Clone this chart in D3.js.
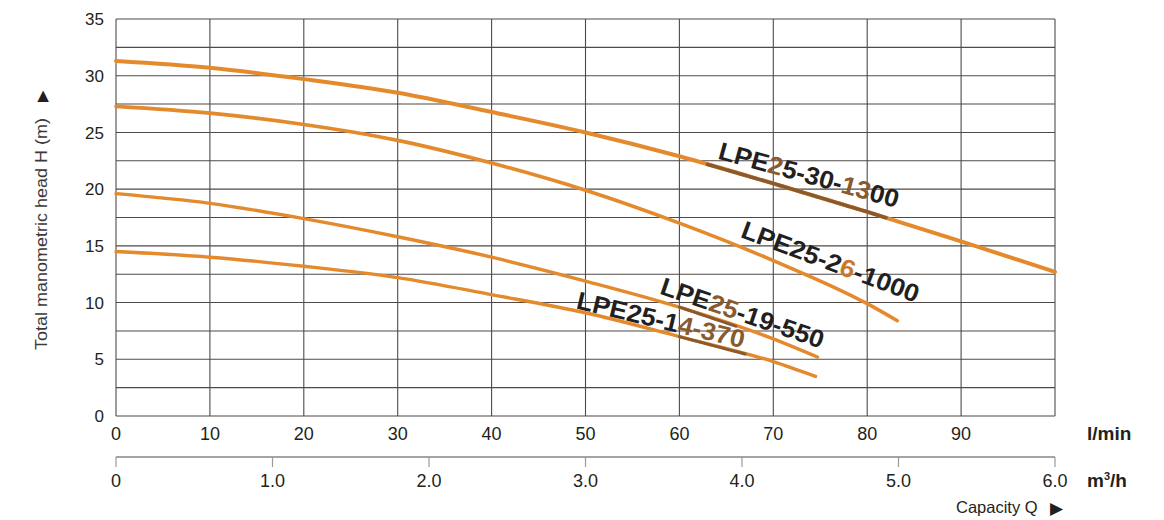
<!DOCTYPE html>
<html><head><meta charset="utf-8">
<script src="https://cdn.jsdelivr.net/npm/d3@7"></script>
<style>
html,body{margin:0;padding:0;background:#fff;}
svg{display:block;font-family:"Liberation Sans",Arial,Helvetica,sans-serif;}
</style></head>
<body>
<svg id="chart" width="1164" height="520"></svg>
<script>
// ---- Data ----
const flowLmin = [0,10,20,30,40,50,60,70,80,90,100];
const xTicksLmin = [0,10,20,30,40,50,60,70,80,90];
const xTicksM3h = [0,1.0,2.0,3.0,4.0,5.0,6.0];
const yTicks = [0,5,10,15,20,25,30,35];
const yGrid = [0,2.5,5,7.5,10,12.5,15,17.5,20,22.5,25,27.5,30,32.5,35];

const seriesNames = ["LPE25-30-1300","LPE25-26-1000","LPE25-19-550","LPE25-14-370"];
const q1300 = [0,10,20,30,40,50,60,70,80,90,100];
const h1300 = [31.3,30.7,29.7,28.5,26.8,25.0,22.9,20.5,18.0,15.4,12.7];
const q1000 = [0,10,20,30,40,50,60,70,80,83.2];
const h1000 = [27.3,26.7,25.7,24.3,22.3,19.9,17.0,13.7,9.9,8.4];
const q550 = [0,10,20,30,40,50,60,70,74.7];
const h550 = [19.6,18.75,17.4,15.8,14.0,11.9,9.6,6.8,5.2];
const q370 = [0,10,20,30,40,50,60,70,74.5];
const h370 = [14.5,14.0,13.2,12.2,10.7,9.1,7.0,4.8,3.5];

// label anchor (l/min, m) and rotation, per series
const labelQ = [64.0,66.4,57.8,48.9];
const labelH = [22.7,15.8,10.8,9.5];
const labelAngle = [15.4,20.6,18.8,13.4];
const labelLen = [186,188,171,172];

// darker overlapping stretches on curves [series index, from, to] (l/min)
const darkSeg = [[0,63,82],[2,60,66],[3,60,67]];

// ---- Layout ----
const svg = d3.select("#chart");
const X0=116, X1=1055, Y0=416, Y1=19;
const x = d3.scaleLinear().domain([0,100]).range([X0,X1]);
const xm = d3.scaleLinear().domain([0,6]).range([X0,X1]);
const y = d3.scaleLinear().domain([0,35]).range([Y0,Y1]);
const gridCol="#4f4a48", txtCol="#231f20";
const orange="#e48a2c", brown="#8a5a2e";

// grid
svg.append("g").selectAll("line").data(yGrid).join("line")
  .attr("x1",X0).attr("x2",X1).attr("y1",d=>y(d)).attr("y2",d=>y(d))
  .attr("stroke",gridCol).attr("stroke-width",1.1);
svg.append("g").selectAll("line").data(flowLmin).join("line")
  .attr("x1",d=>x(d)).attr("x2",d=>x(d)).attr("y1",Y0).attr("y2",Y1)
  .attr("stroke",gridCol).attr("stroke-width",1.1);

// y tick labels
svg.append("g").selectAll("text").data(yTicks).join("text")
  .attr("x",X0-12).attr("y",d=>y(d)).attr("dy","0.36em")
  .attr("text-anchor","end").attr("font-size",17).attr("fill",txtCol)
  .text(d=>d);

// x tick labels (l/min)
svg.append("g").selectAll("text").data(xTicksLmin).join("text")
  .attr("x",d=>x(d)).attr("y",440)
  .attr("text-anchor","middle").attr("font-size",18).attr("fill",txtCol)
  .text(d=>d);
svg.append("text").attr("x",1087).attr("y",440).attr("font-size",19)
  .attr("font-weight","bold").attr("fill",txtCol).text("l/min");

// secondary axis (m3/h)
svg.append("line").attr("x1",X0).attr("x2",X1).attr("y1",457).attr("y2",457)
  .attr("stroke",gridCol).attr("stroke-width",1.1);
svg.append("g").selectAll("line").data(xTicksM3h).join("line")
  .attr("x1",d=>xm(d)).attr("x2",d=>xm(d)).attr("y1",457).attr("y2",467)
  .attr("stroke","#9a9a9a").attr("stroke-width",1.2);
svg.append("g").selectAll("text").data(xTicksM3h).join("text")
  .attr("x",d=>xm(d)).attr("y",487)
  .attr("text-anchor","middle").attr("font-size",18).attr("fill",txtCol)
  .text(d=>d===0?"0":d.toFixed(1));
const mh = svg.append("text").attr("x",1087).attr("y",487).attr("font-size",19)
  .attr("font-weight","bold").attr("fill",txtCol);
mh.append("tspan").text("m");
mh.append("tspan").attr("font-size",11).attr("dy",-7).text("3");
mh.append("tspan").attr("dy",7).text("/h");

svg.append("text").attr("x",956).attr("y",513).attr("font-size",16.5)
  .attr("fill",txtCol).text("Capacity Q");
svg.append("text").attr("x",1050).attr("y",514).attr("font-size",17)
  .attr("fill",txtCol).attr("font-family","DejaVu Sans").text("▶");

// y axis title
const yt = svg.append("g").attr("transform","translate(47,350) rotate(-90)");
yt.append("text").attr("x",0).attr("y",0).attr("font-size",16)
  .attr("fill","#3a3a3a").attr("textLength",232).attr("lengthAdjust","spacingAndGlyphs")
  .text("Total manometric head H  (m)");
yt.append("text").attr("x",248).attr("y",0).attr("font-size",15)
  .attr("fill","#231f20").attr("font-family","DejaVu Sans").text("▶");

// curves
const seriesQ=[q1300,q1000,q550,q370], seriesH=[h1300,h1000,h550,h370];
const widths=[4,3.6,3.4,3.4];
const line = d3.line().x(d=>x(d[0])).y(d=>y(d[1])).curve(d3.curveMonotoneX);
const cg = svg.append("g").attr("fill","none").attr("stroke-linecap","round");
seriesQ.forEach((qs,i)=>{
  const pts = qs.map((q,j)=>[q,seriesH[i][j]]);
  cg.append("path").attr("d",line(pts)).attr("stroke",orange).attr("stroke-width",widths[i]);
});
// darker stretches
darkSeg.forEach(([i,a,b])=>{
  const interp = d3.scaleLinear().domain(seriesQ[i]).range(seriesH[i]);
  const pts = d3.range(a,b+0.001,0.5).map(q=>[q,interp(q)]);
  cg.append("path").attr("d",line(pts)).attr("stroke",brown).attr("stroke-width",widths[i]-0.4);
});

// labels
const parts = [
  [["LPE",txtCol],["2",brown],["5-30-",txtCol],["13",brown],["00",txtCol]],
  [["LPE25-2",txtCol],["6","#c9772a"],["-1000",txtCol]],
  [["LPE",txtCol],["25",brown],["-19-550",txtCol]],
  [["LPE25-1",txtCol],["4-370",brown]]
];
seriesNames.forEach((nm,i)=>{
  const t = svg.append("text")
    .attr("transform",`translate(${x(labelQ[i])},${y(labelH[i])}) rotate(${labelAngle[i]})`)
    .attr("font-size",25).attr("font-weight","bold")
    .attr("textLength",labelLen[i]).attr("lengthAdjust","spacingAndGlyphs");
  parts[i].forEach(([s,c])=>t.append("tspan").attr("fill",c).text(s));
});
</script>
</body></html>
